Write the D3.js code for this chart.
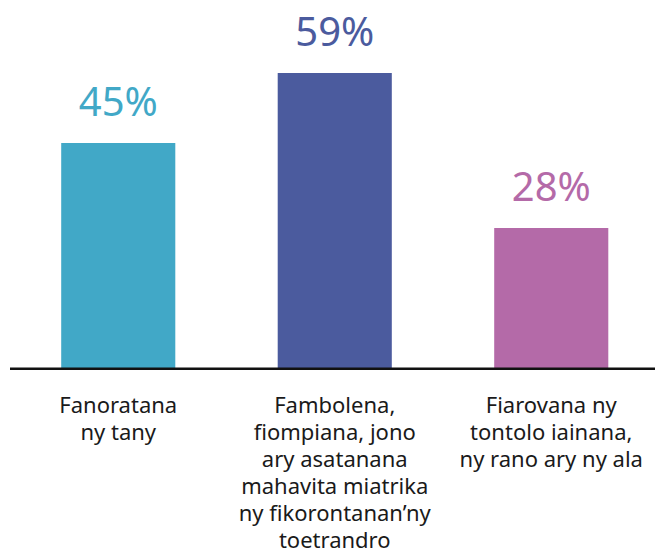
<!DOCTYPE html>
<html>
<head>
<meta charset="utf-8">
<script src="https://cdn.jsdelivr.net/npm/d3@7"></script>
<style>
    body { margin: 0; background: #fff; }
    svg { display: block; font-family: "Noto Sans", "Open Sans", sans-serif; }
</style>
</head>
<body>
<div id="chart"></div>
<script>
// data
let categories = ["tany", "fambolena", "tontolo"];
let values = [45, 59, 28];
let labelLines = [
    ["Fanoratana", "ny tany"],
    ["Fambolena,", "fiompiana, jono", "ary asatanana", "mahavita miatrika", "ny fikorontanan’ny", "toetrandro"],
    ["Fiarovana ny", "tontolo iainana,", "ny rano ary ny ala"]
];
let barColors = ["#41a8c7", "#4b5b9e", "#b46aa8"];

let width = 655, height = 559;
let baseY = 368;

let svg = d3.select("#chart").append("svg")
    .attr("width", width)
    .attr("height", height);

// scales
let x = d3.scaleBand()
    .domain(categories)
    .range([10, 659.5])
    .paddingInner(0.473)
    .paddingOuter(0.2365);

let y = d3.scaleLinear()
    .domain([0, 59])
    .range([baseY, 73]);

// bars
svg.selectAll(".bar")
    .data(values)
    .enter().append("rect")
    .attr("class", "bar")
    .attr("x", (d, i) => x(categories[i]))
    .attr("y", d => y(d))
    .attr("width", x.bandwidth())
    .attr("height", d => y(0) - y(d))
    .attr("fill", (d, i) => barColors[i]);

// value labels
svg.selectAll(".value")
    .data(values)
    .enter().append("text")
    .attr("class", "value")
    .attr("x", (d, i) => x(categories[i]) + x.bandwidth() / 2)
    .attr("y", d => y(d) - 27)
    .attr("text-anchor", "middle")
    .attr("font-size", 40)
    .attr("fill", (d, i) => barColors[i])
    .text(d => d + "%");

// baseline
svg.append("line")
    .attr("x1", 10)
    .attr("x2", width)
    .attr("y1", baseY + 0.8)
    .attr("y2", baseY + 0.8)
    .attr("stroke", "#111")
    .attr("stroke-width", 2.6);

// category labels
let labels = svg.selectAll(".cat")
    .data(labelLines)
    .enter().append("text")
    .attr("class", "cat")
    .attr("text-anchor", "middle")
    .attr("font-size", 22)
    .attr("fill", "#1a1a1a");

labels.selectAll("tspan")
    .data((d, i) => d.map(t => ({t: t, i: i})))
    .enter().append("tspan")
    .attr("x", d => x(categories[d.i]) + x.bandwidth() / 2)
    .attr("y", (d, j) => 413 + j * 27)
    .text(d => d.t);
</script>
</body>
</html>
